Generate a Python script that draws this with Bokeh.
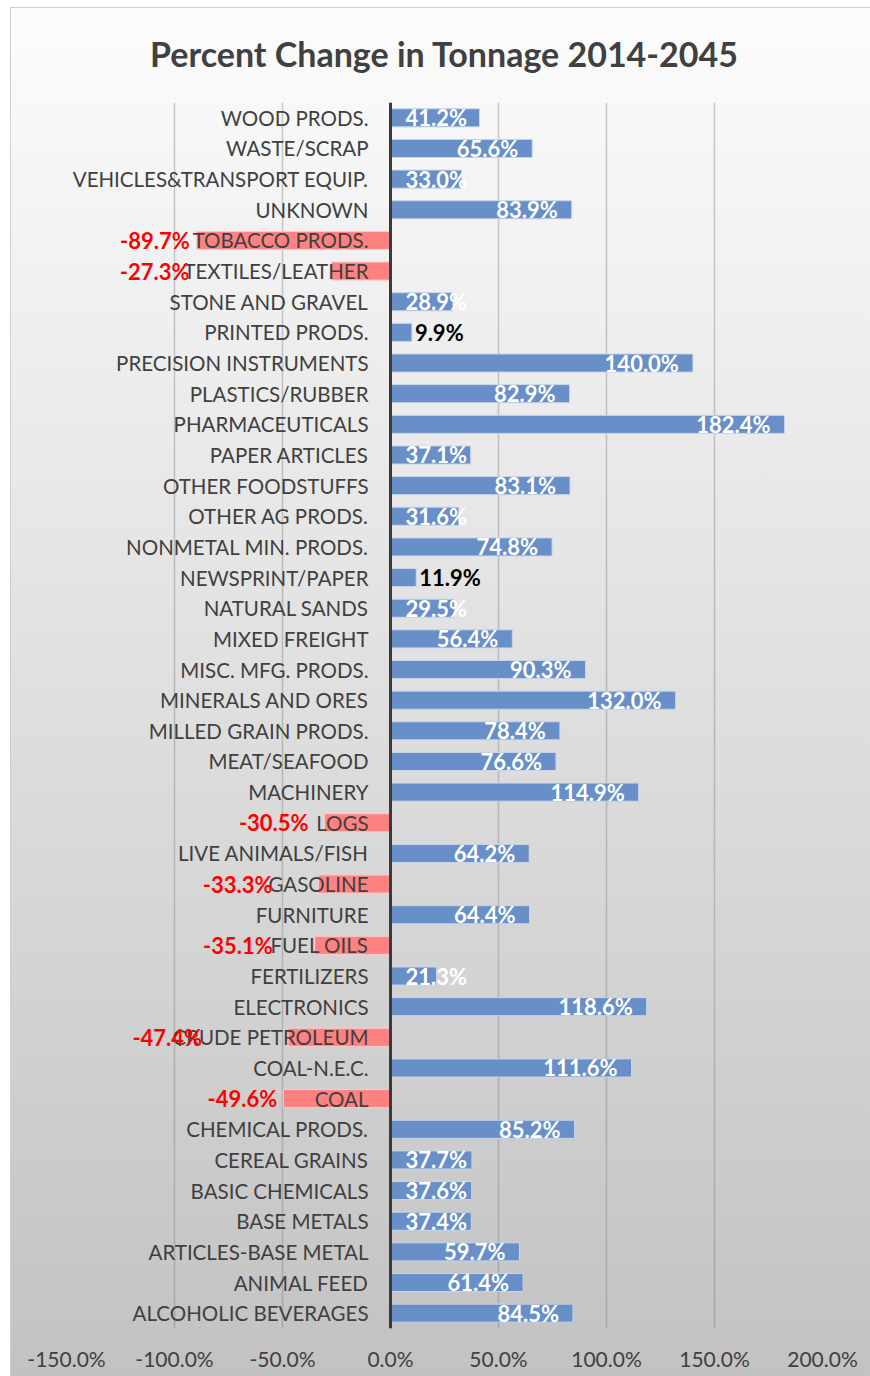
from bokeh.plotting import figure
from bokeh.models import FactorRange, FixedTicker, PrintfTickFormatter, Span, ColumnDataSource
from bokeh.core.properties import value
from bokeh.embed import file_html
from bokeh.resources import INLINE

categories = [
    "ALCOHOLIC BEVERAGES", "ANIMAL FEED", "ARTICLES-BASE METAL", "BASE METALS",
    "BASIC CHEMICALS", "CEREAL GRAINS", "CHEMICAL PRODS.", "COAL", "COAL-N.E.C.",
    "CRUDE PETROLEUM", "ELECTRONICS", "FERTILIZERS", "FUEL OILS", "FURNITURE",
    "GASOLINE", "LIVE ANIMALS/FISH", "LOGS", "MACHINERY", "MEAT/SEAFOOD",
    "MILLED GRAIN PRODS.", "MINERALS AND ORES", "MISC. MFG. PRODS.", "MIXED FREIGHT",
    "NATURAL SANDS", "NEWSPRINT/PAPER", "NONMETAL MIN. PRODS.", "OTHER AG PRODS.",
    "OTHER FOODSTUFFS", "PAPER ARTICLES", "PHARMACEUTICALS", "PLASTICS/RUBBER",
    "PRECISION INSTRUMENTS", "PRINTED PRODS.", "STONE AND GRAVEL", "TEXTILES/LEATHER",
    "TOBACCO PRODS.", "UNKNOWN", "VEHICLES&TRANSPORT EQUIP.", "WASTE/SCRAP", "WOOD PRODS.",
]
pct_change = [
    84.5, 61.4, 59.7, 37.4,
    37.6, 37.7, 85.2, -49.6, 111.6,
    -47.4, 118.6, 21.3, -35.1, 64.4,
    -33.3, 64.2, -30.5, 114.9, 76.6,
    78.4, 132.0, 90.3, 56.4,
    29.5, 11.9, 74.8, 31.6,
    83.1, 37.1, 182.4, 82.9,
    140.0, 9.9, 28.9, -27.3,
    -89.7, 83.9, 33.0, 65.6, 41.2,
]
x_ticks = [-150, -100, -50, 0, 50, 100, 150, 200]
title_text = "Percent Change in Tonnage 2014-2045"

# label styling (pixel offsets of negative labels from bar end)
neg_label_offset = {
    "TOBACCO PRODS.": -7, "TEXTILES/LEATHER": -142, "LOGS": -16,
    "GASOLINE": -46, "FUEL OILS": -42, "CRUDE PETROLEUM": -86, "COAL": -6,
}

FONT = "Lato"
TXT = "#404040"

p = figure(
    width=870, height=1376,
    y_range=FactorRange(factors=categories, range_padding=0),
    x_range=(x_ticks[0], x_ticks[-1]),
    output_backend="svg", toolbar_location=None,
    min_border_left=66, min_border_right=48, min_border_top=102, min_border_bottom=48,
    title=title_text,
)
p.styles = {
    "background": (
        "linear-gradient(to bottom, #fcfcfc 0%, #e8e8e8 35%, #c2c2c2 100%) "
        "11px 8px / calc(100% - 11px) calc(100% - 8px) no-repeat, "
        "linear-gradient(#cfcfcf, #cfcfcf) 10px 7px / calc(100% - 10px) calc(100% - 7px) no-repeat, "
        "#ffffff"
    ),
}
p.background_fill_alpha = 0
p.border_fill_alpha = 0
p.outline_line_color = None

p.title.align = "center"
p.title.text_font = FONT
p.title.text_font_style = "bold"
p.title.text_font_size = "34px"
p.title.text_color = TXT
p.title.standoff = 58
p.title.offset = 8

p.yaxis.visible = False
p.ygrid.grid_line_color = None
p.xgrid.ticker = FixedTicker(ticks=x_ticks)
p.xgrid.grid_line_color = "#808080"
p.xgrid.grid_line_alpha = 0.4
p.xgrid.grid_line_width = 1.5

p.xaxis.ticker = FixedTicker(ticks=x_ticks)
p.xaxis.formatter = PrintfTickFormatter(format="%.1f%%")
p.xaxis.axis_line_color = None
p.xaxis.major_tick_line_color = None
p.xaxis.minor_tick_line_color = None
p.xaxis.major_label_text_font = FONT
p.xaxis.major_label_text_font_size = "21px"
p.xaxis.major_label_text_color = TXT
p.xaxis.major_label_standoff = 11

pos_cat = [c for c, v in zip(categories, pct_change) if v >= 0]
pos_val = [v for v in pct_change if v >= 0]
neg_cat = [c for c, v in zip(categories, pct_change) if v < 0]
neg_val = [v for v in pct_change if v < 0]

p.hbar(y=pos_cat, right=pos_val, left=0, height=0.59,
       fill_color="#688fc7", line_color="#c8d5ea", line_width=1)
p.hbar(y=neg_cat, right=0, left=neg_val, height=0.59,
       fill_color="#ff8282", line_color="#ffc8c8", line_width=1)

p.add_layout(Span(location=0, dimension="height", line_color="#3a3a3a", line_width=3))

# category labels next to zero axis
p.text(x=[0] * len(categories), y=categories, text=categories,
       x_offset=-22, text_align="right", text_baseline="middle",
       text_font=value(FONT), text_font_size="20.5px", text_color=TXT)

def fmt(v):
    return f"{v:.1f}%"

end_c, end_v = [], []
start_c, start_v = [], []
out_c, out_v = [], []
for c, v in zip(pos_cat, pos_val):
    if v < 15:
        out_c.append(c); out_v.append(v)
    elif v < 45:
        start_c.append(c); start_v.append(v)
    else:
        end_c.append(c); end_v.append(v)

LBL = "22px"
p.text(x=end_v, y=end_c, text=[fmt(v) for v in end_v], x_offset=-14,
       text_align="right", text_baseline="middle", text_font=value(FONT),
       text_font_style="bold", text_font_size=LBL, text_color="white")
p.text(x=[0] * len(start_v), y=start_c, text=[fmt(v) for v in start_v], x_offset=15,
       text_align="left", text_baseline="middle", text_font=value(FONT),
       text_font_style="bold", text_font_size=LBL, text_color="white")
p.text(x=out_v, y=out_c, text=[fmt(v) for v in out_v], x_offset=3,
       text_align="left", text_baseline="middle", text_font=value(FONT),
       text_font_style="bold", text_font_size=LBL, text_color="black")
neg_src = ColumnDataSource(dict(
    x=neg_val, y=neg_cat, text=[fmt(v) for v in neg_val],
    off=[neg_label_offset.get(c, -6) for c in neg_cat]))
p.text(x="x", y="y", text="text", x_offset="off", source=neg_src,
       text_align="right", text_baseline="middle", text_font=value(FONT),
       text_font_style="bold", text_font_size=LBL, text_color="#ff0000")

open("out.html", "w").write(file_html(p, INLINE))
